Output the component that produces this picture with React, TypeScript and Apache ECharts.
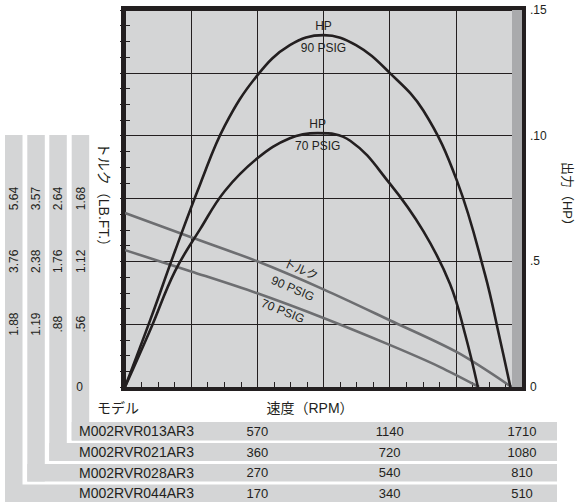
import React, { useEffect, useRef } from 'react';
import * as echarts from 'echarts';

// ---- data ----
const models = ['M002RVR013AR3', 'M002RVR021AR3', 'M002RVR028AR3', 'M002RVR044AR3'];
const modelMaxRpm = [1710, 1080, 810, 510];
const modelTorqueStep = [0.56, 0.88, 1.19, 1.88];
const hpTickLabels = ['0', '', '.5', '', '.10', '', '.15'];

const hpRpm90 = [0, 110, 215, 325, 430, 570, 710, 855, 995, 1140, 1285, 1430, 1550, 1615, 1660];
const hp90 = [0, 0.027, 0.054, 0.081, 0.104, 0.124, 0.136, 0.14, 0.136, 0.125, 0.11, 0.082, 0.045, 0.019, 0];
const hpRpm70 = [0, 110, 215, 325, 430, 570, 710, 830, 970, 1140, 1285, 1400, 1465, 1520];
const hp70 = [0, 0.023, 0.046, 0.063, 0.078, 0.091, 0.099, 0.101, 0.098, 0.081, 0.062, 0.041, 0.021, 0];
const tqRpm90 = [0, 285, 570, 855, 1140, 1430, 1665];
const tq90 = [1.55, 1.335, 1.12, 0.87, 0.595, 0.31, 0];
const tqRpm70 = [0, 285, 570, 855, 1140, 1355, 1525];
const tq70 = [1.22, 1.03, 0.835, 0.615, 0.375, 0.18, 0];
const tqLabel90 = [740, 0.962];
const tqLabel70 = [680, 0.676];

export default function App() {
  const ref = useRef<HTMLDivElement>(null);
  useEffect(() => {
    const chart = echarts.init(ref.current!, null, { renderer: 'svg' });
    const ink = '#231f20';
    const gray = '#d4d5d6';
    const font = "'Liberation Sans', Arial, Helvetica, sans-serif";
    const jfont = "'Liberation Sans', 'Noto Sans CJK JP', sans-serif";
    const gridL = 125, gridT = 10, gridW = 397, gridH = 377;
    const gridB = gridT + gridH;
    const colCenters = [80.5, 58, 36, 14];
    const rowCenters = [431, 452, 472.5, 493];
    const barLeft = [71.7, 49.3, 27.3, 5];
    const barW = 17.5;
    const rowTop = [422, 443, 464, 484.5];
    const rowBottom = [440.5, 461, 481.5, 502];
    const bandRight = 557;
    const fmt = (v: number) => v.toFixed(2).replace(/^0\./, '.');
    const tick = { show: true, inside: true, length: 5, lineStyle: { color: ink, width: 1 } };
    const minor = { show: true, splitNumber: 4, length: 5, lineStyle: { color: ink, width: 1 } };

    const graphics: any[] = [];
    models.forEach((m, i) => {
      graphics.push({
        type: 'rect', z: 0, shape: { x: barLeft[i], y: 135, width: barW, height: rowBottom[i] - 135 },
        style: { fill: gray },
      });
      graphics.push({
        type: 'rect', z: 0,
        shape: { x: barLeft[i], y: rowTop[i], width: bandRight - barLeft[i], height: rowBottom[i] - rowTop[i] },
        style: { fill: gray },
      });
      graphics.push({
        type: 'text', z: 5, x: 79, y: rowCenters[i],
        style: { text: m, fontSize: 14, fontFamily: font, fill: ink, align: 'left', verticalAlign: 'middle' },
      });
    });
    graphics.push({
      type: 'rect', z: 1, shape: { x: 512, y: gridT, width: gridL + gridW - 512, height: gridH },
      style: { fill: '#a9aaac' },
    });
    graphics.push({
      type: 'rect', z: 10, shape: { x: gridL - 2, y: gridT - 2, width: gridW + 4, height: gridH + 4 },
      style: { fill: 'none', stroke: ink, lineWidth: 4 },
    });
    graphics.push({
      type: 'text', z: 5, x: 104, y: 198, rotation: -Math.PI / 2,
      style: { text: 'トルク（LB.FT.）', fontSize: 14, fontFamily: jfont, fill: ink, align: 'center', verticalAlign: 'middle' },
    });
    graphics.push({
      type: 'text', z: 5, x: 567, y: 197, rotation: -Math.PI / 2,
      style: { text: '出力（HP）', fontSize: 13, fontFamily: jfont, fill: ink, align: 'center', verticalAlign: 'middle' },
    });
    graphics.push({
      type: 'text', z: 5, x: 97, y: 408,
      style: { text: 'モデル', fontSize: 14, fontFamily: jfont, fill: ink, align: 'left', verticalAlign: 'middle' },
    });
    graphics.push({
      type: 'text', z: 5, x: 310, y: 408,
      style: { text: '速度（RPM）', fontSize: 14, fontFamily: jfont, fill: ink, align: 'center', verticalAlign: 'middle' },
    });

    const peakLabel = (txt: string) => ({
      symbol: 'circle', symbolSize: 0, silent: true,
      data: [{
        type: 'max',
        label: { show: true, position: 'inside', formatter: txt, color: ink, fontSize: 12, lineHeight: 22, offset: [0, 2], fontFamily: font },
      }],
    });
    const torqueLabel = (coord: number[], txt: string, rot: number, lh: number) => ({
      symbol: 'circle', symbolSize: 0, silent: true,
      data: [{
        coord,
        label: { show: true, position: 'inside', formatter: txt, color: ink, fontSize: 12, lineHeight: lh, rotate: rot, fontFamily: jfont },
      }],
    });

    chart.setOption({
      animation: false,
      textStyle: { fontFamily: font },
      grid: {
        left: gridL, top: gridT, width: gridW, height: gridH, show: true,
        backgroundColor: gray, borderWidth: 0, outerBoundsMode: 'none', containLabel: false,
      },
      xAxis: [
        {
          type: 'value', min: 0, max: modelMaxRpm[0], interval: modelMaxRpm[0] / 6,
          axisLine: { show: false }, axisLabel: { show: false },
          axisTick: tick, minorTick: minor,
          splitLine: { show: true, lineStyle: { color: ink, width: 1 } },
        },
        ...models.map((m, i) => ({
          type: 'value', position: 'bottom', offset: rowCenters[i] - gridB,
          min: 0, max: modelMaxRpm[i], interval: modelMaxRpm[i] / 3,
          axisLine: { show: false }, axisTick: { show: false }, splitLine: { show: false },
          axisLabel: {
            margin: 0, verticalAlign: 'middle', fontSize: 13, color: ink, fontFamily: font,
            formatter: (v: number) => (v === 0 ? '' : String(Math.round(v))),
          },
        })),
      ],
      yAxis: [
        {
          type: 'value', position: 'left', min: 0, max: modelTorqueStep[0] * 6, interval: modelTorqueStep[0],
          axisLine: { show: false }, axisTick: tick, minorTick: minor,
          splitLine: { show: true, lineStyle: { color: ink, width: 1 } },
          axisLabel: { margin: 42, fontSize: 12, color: ink, fontFamily: font, formatter: (v: number) => (v === 0 ? '0' : '') },
        },
        {
          type: 'value', position: 'right', min: 0, max: 0.15, interval: 0.025, z: 3,
          axisLine: { show: false }, axisTick: tick, minorTick: minor, splitLine: { show: false },
          axisLabel: {
            margin: 8, fontSize: 12, color: ink, fontFamily: font,
            formatter: (v: number) => hpTickLabels[Math.round(v / 0.025)] ?? '',
          },
        },
        ...modelTorqueStep.map((s, i) => ({
          type: 'value', position: 'left', offset: gridL - colCenters[i],
          min: 0, max: s * 6, interval: s,
          axisLine: { show: false }, axisTick: { show: false }, splitLine: { show: false },
          axisLabel: {
            rotate: 90, margin: 0, align: 'center', verticalAlign: 'middle', fontSize: 12, color: ink, fontFamily: font,
            formatter: (v: number) => {
              const k = Math.round(v / s);
              return k >= 1 && k <= 3 ? fmt(k * s) : '';
            },
          },
        })),
      ],
      series: [
        {
          type: 'line', xAxisIndex: 0, yAxisIndex: 1, z: 3, silent: true,
          data: hpRpm90.map((x, i) => [x, hp90[i]]), smooth: 0.4, symbol: 'none',
          lineStyle: { color: ink, width: 2.6 }, markPoint: peakLabel('HP\n90 PSIG'),
        },
        {
          type: 'line', xAxisIndex: 0, yAxisIndex: 1, z: 3, silent: true,
          data: hpRpm70.map((x, i) => [x, hp70[i]]), smooth: 0.4, symbol: 'none',
          lineStyle: { color: ink, width: 2.6 }, markPoint: peakLabel('HP\n70 PSIG'),
        },
        {
          type: 'line', xAxisIndex: 0, yAxisIndex: 0, z: 2, silent: true,
          data: tqRpm90.map((x, i) => [x, tq90[i]]), smooth: 0.3, symbol: 'none',
          lineStyle: { color: '#6d6e71', width: 2.6 },
          markPoint: torqueLabel(tqLabel90, 'トルク\n90 PSIG', -23, 20.5),
        },
        {
          type: 'line', xAxisIndex: 0, yAxisIndex: 0, z: 2, silent: true,
          data: tqRpm70.map((x, i) => [x, tq70[i]]), smooth: 0.3, symbol: 'none',
          lineStyle: { color: '#6d6e71', width: 2.6 },
          markPoint: torqueLabel(tqLabel70, '70 PSIG', -22, 14),
        },
      ],
      graphic: graphics,
    });
    return () => chart.dispose();
  }, []);
  return <div ref={ref} style={{ position: 'absolute', left: 0, top: 0, width: 578, height: 502 }} />;
}
